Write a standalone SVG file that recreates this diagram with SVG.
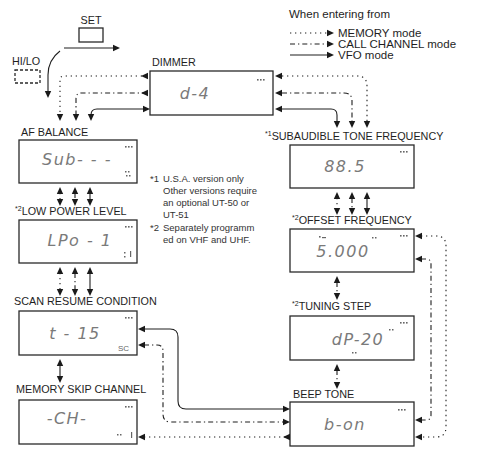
<svg xmlns="http://www.w3.org/2000/svg" xmlns:xlink="http://www.w3.org/1999/xlink" width="478" height="450" viewBox="0 0 478 450">
<style>
.lbl{font-family:"Liberation Sans",Arial,sans-serif;font-size:10.8px;fill:#1e1e1e}
.lg{font-family:"Liberation Sans",Arial,sans-serif;font-size:11.5px;fill:#1e1e1e}
.sup{font-size:7px}
.note{font-family:"Liberation Sans",Arial,sans-serif;font-size:9.5px;fill:#333}
.lcd{font-family:"DejaVu Sans ExtraLight","DejaVu Sans",sans-serif;font-style:italic;font-size:16px;fill:#7a7a7a;font-weight:200;letter-spacing:1.5px;text-anchor:middle}
.small{font-family:"Liberation Sans",Arial,sans-serif;font-size:8px;fill:#666}
.box{fill:none;stroke:#2a2a2a;stroke-width:1.3}
.c{fill:none;stroke:#1e1e1e;stroke-width:1.1}
.mem{stroke-dasharray:1.3 3.7}
.call{stroke-dasharray:5 3 1.3 3}
.dot{fill:#666}
</style>
<defs>
<path id="ah" d="M0,0 L-7,-3.2 L-7,3.2 Z" fill="#1a1a1a"/>
<g id="dots3"><rect x="0" y="0" width="1.6" height="1.6" class="dot"/><rect x="3" y="0" width="1.6" height="1.6" class="dot"/><rect x="6" y="0" width="1.6" height="1.6" class="dot"/></g>
<g id="dots2"><rect x="0" y="0" width="1.5" height="1.5" class="dot"/><rect x="3" y="0" width="1.5" height="1.5" class="dot"/></g>
</defs>
<rect width="478" height="450" fill="#fff"/>

<g id="legend">
<text class="lg" x="289" y="18">When entering from</text>
<path class="c mem" d="M290,33 H328"/><use xlink:href="#ah" transform="translate(334,33)"/>
<text class="lg" x="338" y="37">MEMORY mode</text>
<path class="c call" d="M290,44 H328"/><use xlink:href="#ah" transform="translate(334,44)"/>
<text class="lg" x="338" y="48">CALL CHANNEL mode</text>
<path class="c" d="M290,55 H328"/><use xlink:href="#ah" transform="translate(334,55)"/>
<text class="lg" x="338" y="59">VFO mode</text>
</g>

<g id="set">
<text class="lbl" x="91" y="24" text-anchor="middle">SET</text>
<rect class="box" x="79" y="28" width="24" height="14"/>
</g>

<g id="hilo">
<text class="lbl" x="12" y="65">HI/LO</text>
<rect class="box" x="15" y="70" width="25" height="13" stroke-dasharray="3 2"/>
</g>

<g id="dimmer">
<text class="lbl" x="152" y="66">DIMMER</text>
<rect class="box" x="150" y="71" width="123" height="44"/>
<text class="lcd" x="195" y="99">d-4</text>
<use xlink:href="#dots3" x="257" y="79"/>
</g>

<g id="af-balance">
<text class="lbl" x="21" y="136">AF BALANCE</text>
<rect class="box" x="19" y="140" width="118" height="43"/>
<text class="lcd" x="77" y="165">Sub- - -</text>
<use xlink:href="#dots3" x="125" y="146"/>
<use xlink:href="#dots2" x="125" y="171"/><use xlink:href="#dots2" x="126" y="175"/>
</g>

<g id="low-power">
<text class="lbl" x="15" y="215"><tspan class="sup" dy="-4">*2</tspan><tspan dy="4">LOW POWER LEVEL</tspan></text>
<rect class="box" x="19" y="220" width="118" height="43"/>
<text class="lcd" x="80" y="246">LPo - 1</text>
<use xlink:href="#dots3" x="125" y="226"/>
<rect class="dot" x="124" y="252" width="1.5" height="1.5"/><rect class="dot" x="124" y="256" width="1.5" height="1.5"/>
<rect class="dot" x="130" y="251" width="1.2" height="6"/>
</g>

<g id="scan-resume">
<text class="lbl" x="14" y="305">SCAN RESUME CONDITION</text>
<rect class="box" x="19" y="311" width="118" height="44"/>
<text class="lcd" x="75" y="339">t - 15</text>
<use xlink:href="#dots3" x="125" y="317"/>
<text class="small" x="118" y="351">SC</text>
</g>

<g id="memory-skip">
<text class="lbl" x="16" y="393">MEMORY SKIP CHANNEL</text>
<rect class="box" x="19" y="400" width="118" height="44"/>
<text class="lcd" x="67" y="424">-CH-</text>
<use xlink:href="#dots3" x="125" y="406"/>
<use xlink:href="#dots2" x="117" y="434"/>
<rect class="dot" x="131" y="432" width="1.2" height="6"/>
</g>

<g id="subaudible">
<text class="lbl" x="265" y="140"><tspan class="sup" dy="-4">*1</tspan><tspan dy="4">SUBAUDIBLE TONE FREQUENCY</tspan></text>
<rect class="box" x="290" y="145" width="124" height="43"/>
<text class="lcd" x="345" y="172">88.5</text>
<use xlink:href="#dots3" x="400" y="151"/>
</g>

<g id="offset">
<text class="lbl" x="292" y="224"><tspan class="sup" dy="-4">*2</tspan><tspan dy="4">OFFSET FREQUENCY</tspan></text>
<rect class="box" x="290" y="229" width="124" height="43"/>
<text class="lcd" x="343" y="257">5.000</text>
<use xlink:href="#dots3" x="400" y="235"/>
<rect class="dot" x="319" y="236" width="1.6" height="1.6"/><rect class="dot" x="322" y="237" width="4" height="1.2"/>
<use xlink:href="#dots2" x="372" y="237"/>
</g>

<g id="tuning-step">
<text class="lbl" x="292" y="310"><tspan class="sup" dy="-4">*2</tspan><tspan dy="4">TUNING STEP</tspan></text>
<rect class="box" x="290" y="316" width="124" height="44"/>
<text class="lcd" x="358" y="345">dP-20</text>
<use xlink:href="#dots3" x="400" y="322"/>
<use xlink:href="#dots2" x="389" y="329"/>
<use xlink:href="#dots2" x="352" y="352"/>
</g>

<g id="beep-tone">
<text class="lbl" x="293" y="398">BEEP TONE</text>
<rect class="box" x="290" y="402" width="124" height="44"/>
<text class="lcd" x="345" y="430">b-on</text>
<use xlink:href="#dots3" x="398" y="409"/>
</g>

<g id="notes">
<text class="note" x="150" y="182">*1</text><text class="note" x="163" y="182">U.S.A. version only</text>
<text class="note" x="163" y="194">Other versions require</text>
<text class="note" x="163" y="206">an optional UT-50 or</text>
<text class="note" x="163" y="218">UT-51</text>
<text class="note" x="150" y="231">*2</text><text class="note" x="163" y="231">Separately programm</text>
<text class="note" x="163" y="243">ed on VHF and UHF.</text>
</g>

<g id="connectors">
<path class="c" d="M64,48 H114"/><use xlink:href="#ah" transform="translate(120,48)"/>
<path class="c" d="M60,51 Q48,60 48,75 V92"/><use xlink:href="#ah" transform="translate(48,98) rotate(90)"/>
<path class="c mem" d="M147,76 H64 Q60,76 60,80 V114"/>
<use xlink:href="#ah" transform="translate(141,76) rotate(180)"/><use xlink:href="#ah" transform="translate(60,121) rotate(90)"/>
<path class="c call" d="M147,93 H81 Q76,93 76,99 V114"/>
<use xlink:href="#ah" transform="translate(141,93) rotate(180)"/><use xlink:href="#ah" transform="translate(76,121) rotate(90)"/>
<path class="c" d="M144,109 H97 Q91,109 91,115 V114"/>
<use xlink:href="#ah" transform="translate(150,109)"/><use xlink:href="#ah" transform="translate(91,121) rotate(90)"/>
<path class="c mem" d="M282,76 H357 Q367,76 367,86 V121"/>
<use xlink:href="#ah" transform="translate(275,76) rotate(180)"/><use xlink:href="#ah" transform="translate(367,128) rotate(90)"/>
<path class="c call" d="M282,93 H344 Q352,93 352,101 V121"/>
<use xlink:href="#ah" transform="translate(275,93) rotate(180)"/><use xlink:href="#ah" transform="translate(352,128) rotate(90)"/>
<path class="c" d="M282,109 H331 Q337,109 337,115 V121"/>
<use xlink:href="#ah" transform="translate(275,109) rotate(180)"/><use xlink:href="#ah" transform="translate(337,128) rotate(90)"/>
<path class="c mem" d="M60,193 V199"/><use xlink:href="#ah" transform="translate(60,187) rotate(-90)"/><use xlink:href="#ah" transform="translate(60,206) rotate(90)"/>
<path class="c call" d="M75,193 V199"/><use xlink:href="#ah" transform="translate(75,187) rotate(-90)"/><use xlink:href="#ah" transform="translate(75,206) rotate(90)"/>
<path class="c" d="M90,193 V199"/><use xlink:href="#ah" transform="translate(90,187) rotate(-90)"/><use xlink:href="#ah" transform="translate(90,206) rotate(90)"/>
<path class="c mem" d="M60,273 V289"/><use xlink:href="#ah" transform="translate(60,267) rotate(-90)"/><use xlink:href="#ah" transform="translate(60,296) rotate(90)"/>
<path class="c call" d="M75,273 V289"/><use xlink:href="#ah" transform="translate(75,267) rotate(-90)"/><use xlink:href="#ah" transform="translate(75,296) rotate(90)"/>
<path class="c" d="M90,273 V289"/><use xlink:href="#ah" transform="translate(90,267) rotate(-90)"/><use xlink:href="#ah" transform="translate(90,296) rotate(90)"/>
<path class="c" d="M60,365 V377"/><use xlink:href="#ah" transform="translate(60,359) rotate(-90)"/><use xlink:href="#ah" transform="translate(60,383) rotate(90)"/>
<path class="c mem" d="M337,198 V208"/><use xlink:href="#ah" transform="translate(337,192) rotate(-90)"/><use xlink:href="#ah" transform="translate(337,215) rotate(90)"/>
<path class="c call" d="M352,198 V208"/><use xlink:href="#ah" transform="translate(352,192) rotate(-90)"/><use xlink:href="#ah" transform="translate(352,215) rotate(90)"/>
<path class="c" d="M367,198 V208"/><use xlink:href="#ah" transform="translate(367,192) rotate(-90)"/><use xlink:href="#ah" transform="translate(367,215) rotate(90)"/>
<path class="c call" d="M337,282 V293"/><use xlink:href="#ah" transform="translate(337,276) rotate(-90)"/><use xlink:href="#ah" transform="translate(337,300) rotate(90)"/>
<path class="c call" d="M337,370 V382"/><use xlink:href="#ah" transform="translate(337,364) rotate(-90)"/><use xlink:href="#ah" transform="translate(337,389) rotate(90)"/>
<path class="c mem" d="M421,236 H436 Q446,236 446,246 V427 Q446,437 436,437 H421"/>
<use xlink:href="#ah" transform="translate(415,236) rotate(180)"/><use xlink:href="#ah" transform="translate(415,437) rotate(180)"/>
<path class="c call" d="M421,259 H426 Q431,259 431,264 V415 Q431,420 426,420 H421"/>
<use xlink:href="#ah" transform="translate(415,259) rotate(180)"/><use xlink:href="#ah" transform="translate(415,420) rotate(180)"/>
<path class="c" d="M284,409 H186 Q178,409 178,401 V337 Q178,329 170,329 H144"/>
<use xlink:href="#ah" transform="translate(290,409)"/><use xlink:href="#ah" transform="translate(138,329) rotate(180)"/>
<path class="c call" d="M144,345 H157 Q163,345 163,351 V414 Q163,422 171,422 H284"/>
<use xlink:href="#ah" transform="translate(138,345) rotate(180)"/><use xlink:href="#ah" transform="translate(290,422)"/>
<path class="c mem" d="M144,437 H290"/>
<use xlink:href="#ah" transform="translate(138,437) rotate(180)"/><use xlink:href="#ah" transform="translate(283,437) rotate(180)"/>
</g>
</svg>
